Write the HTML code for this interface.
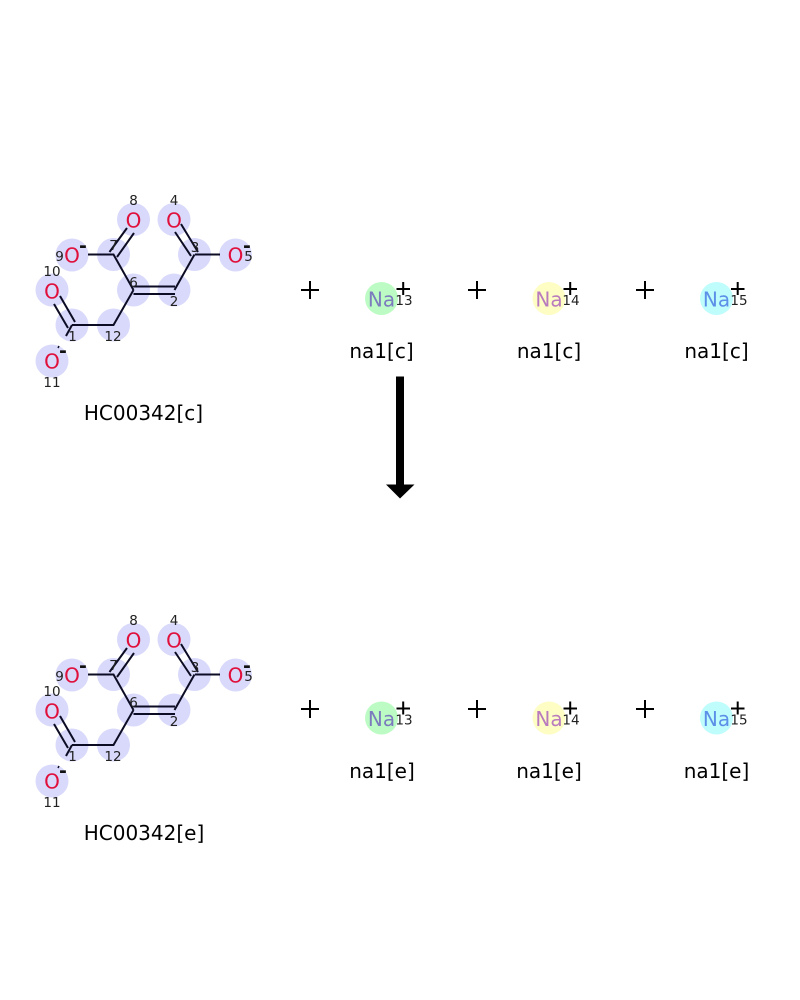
<!DOCTYPE html>
<html><head><meta charset="utf-8"><style>
html,body{margin:0;padding:0;background:#fff}
svg{display:block}
text{font-family:"DejaVu Sans",sans-serif}
.o{font-size:20px;fill:#e0103c;text-anchor:middle}
.n{font-size:13.5px;fill:#222;text-anchor:middle}
.m{font-size:19px;fill:#111;text-anchor:middle;font-weight:bold}
.l{font-size:20px;fill:#000;text-anchor:middle}
.na{font-size:20px;text-anchor:middle}
.h{fill:#d9d9fb}
.b{stroke:#0c0c24;stroke-width:2;fill:none}
.s{stroke:#000;stroke-width:2;fill:none}
</style></head><body>
<svg width="800" height="1000" viewBox="0 0 800 1000" xmlns="http://www.w3.org/2000/svg">
<rect width="800" height="1000" fill="#fff"/>

<!-- Upper molecule -->
<g>
<g class="h">
<circle cx="133.5" cy="219.5" r="16.5"/><circle cx="174" cy="219.5" r="16.5"/>
<circle cx="72" cy="255" r="16.5"/><circle cx="113.5" cy="254.5" r="16.5"/>
<circle cx="194.5" cy="254.5" r="16.5"/><circle cx="235.5" cy="255" r="16.5"/>
<circle cx="133.5" cy="290" r="16.5"/><circle cx="174" cy="290" r="16.5"/>
<circle cx="52" cy="290" r="16.5"/><circle cx="72" cy="325" r="16.5"/>
<circle cx="113.5" cy="325" r="16.5"/><circle cx="52" cy="361" r="16.5"/>
</g>
<g class="b">
<path d="M88 254.5H113.5L133.5 290"/>
<path d="M109.500 252L127 228M117 257L134 233"/>
<path d="M195 254.500H220"/>
<path d="M181 224L198 252M175 232L191 256"/>
<path d="M194.500 254.500L174.500 290"/>
<path d="M133.500 286.500H175M133.500 294H175"/>
<path d="M133.500 290L113.500 325H72"/>
<path d="M60 296L75 322M54 304L68 328"/>
<path d="M72 325L66 336"/>
<path d="M59 346L58 348" stroke-width="1.500"/>
</g>
<text class="o" x="133.500" y="227.500">O</text><text class="o" x="174" y="227.500">O</text>
<text class="o" x="72" y="262.500">O</text><text class="o" x="235.500" y="262.500">O</text>
<text class="o" x="52" y="298.500">O</text><text class="o" x="52" y="368.500">O</text>
<text class="n" x="133.500" y="205">8</text><text class="n" x="174" y="205">4</text>
<text class="n" x="59.500" y="261">9</text><text class="n" x="113.500" y="250">7</text>
<text class="n" x="195" y="252">3</text><text class="n" x="248.500" y="261">5</text>
<text class="n" x="133.500" y="287">6</text><text class="n" x="174" y="306">2</text>
<text class="n" x="52" y="276">10</text><text class="n" x="72.500" y="341">1</text>
<text class="n" x="113" y="341">12</text><text class="n" x="52" y="387">11</text>
<text class="m" x="83" y="252">-</text><text class="m" x="247" y="252">-</text><text class="m" x="63" y="357">-</text>
<text class="l" x="143.500" y="420">HC00342[c]</text>
</g>

<!-- Lower molecule -->
<g>
<g class="h">
<circle cx="133.5" cy="639.5" r="16.5"/><circle cx="174" cy="639.5" r="16.5"/>
<circle cx="72" cy="675" r="16.5"/><circle cx="113.5" cy="674.5" r="16.5"/>
<circle cx="194.5" cy="674.5" r="16.5"/><circle cx="235.5" cy="675" r="16.5"/>
<circle cx="133.5" cy="710" r="16.5"/><circle cx="174" cy="710" r="16.5"/>
<circle cx="52" cy="710" r="16.5"/><circle cx="72" cy="745" r="16.5"/>
<circle cx="113.5" cy="745" r="16.5"/><circle cx="52" cy="781" r="16.5"/>
</g>
<g class="b">
<path d="M88 674.5H113.5L133.5 710"/>
<path d="M109.500 672L127 648M117 677L134 653"/>
<path d="M195 674.500H220"/>
<path d="M181 644L198 672M175 652L191 676"/>
<path d="M194.500 674.500L174.500 710"/>
<path d="M133.500 706.500H175M133.500 714H175"/>
<path d="M133.500 710L113.500 745H72"/>
<path d="M60 716L75 742M54 724L68 748"/>
<path d="M72 745L66 756"/>
<path d="M59 766L58 768" stroke-width="1.500"/>
</g>
<text class="o" x="133.500" y="647.500">O</text><text class="o" x="174" y="647.500">O</text>
<text class="o" x="72" y="682.500">O</text><text class="o" x="235.500" y="682.500">O</text>
<text class="o" x="52" y="718.500">O</text><text class="o" x="52" y="788.500">O</text>
<text class="n" x="133.500" y="625">8</text><text class="n" x="174" y="625">4</text>
<text class="n" x="59.500" y="681">9</text><text class="n" x="113.500" y="670">7</text>
<text class="n" x="195" y="672">3</text><text class="n" x="248.500" y="681">5</text>
<text class="n" x="133.500" y="707">6</text><text class="n" x="174" y="726">2</text>
<text class="n" x="52" y="696">10</text><text class="n" x="72.500" y="761">1</text>
<text class="n" x="113" y="761">12</text><text class="n" x="52" y="807">11</text>
<text class="m" x="83" y="672">-</text><text class="m" x="247" y="672">-</text><text class="m" x="63" y="777">-</text>
<text class="l" x="144" y="840">HC00342[e]</text>
</g>

<!-- Na upper -->
<circle cx="381.500" cy="298.500" r="16.500" fill="#bcfcc4"/>
<circle cx="549" cy="298.500" r="16.500" fill="#fdfdc4"/>
<circle cx="716.500" cy="298.500" r="16.500" fill="#bffcfc"/>
<text class="na" x="381.500" y="306.500" fill="#7b7bbd">Na</text>
<text class="na" x="549" y="306.500" fill="#b97bbd">Na</text>
<text class="na" x="716.500" y="306.500" fill="#5b8fe8">Na</text>
<g class="s">
<path d="M396.500 289H410M403.200 282V295"/><path d="M563.500 289H577M570.200 282V295"/><path d="M731 289H744.500M737.700 282V295"/>
<path d="M301 290H319M310 281V299"/><path d="M468 290H486M477 281V299"/><path d="M636 290H654M645 281V299"/>
</g>
<text class="n" x="404" y="305">13</text><text class="n" x="571" y="305">14</text><text class="n" x="739" y="305">15</text>
<text class="l" x="381.500" y="358">na1[c]</text><text class="l" x="549" y="358">na1[c]</text><text class="l" x="716.500" y="358">na1[c]</text>

<!-- Arrow -->
<path d="M396 376.500H404V484.500H414.500L400 498.500L386 484.500H396Z" fill="#000"/>

<!-- Na lower -->
<circle cx="381.500" cy="718" r="16.500" fill="#bcfcc4"/>
<circle cx="549" cy="718" r="16.500" fill="#fdfdc4"/>
<circle cx="716.500" cy="718" r="16.500" fill="#bffcfc"/>
<text class="na" x="381.500" y="726" fill="#7b7bbd">Na</text>
<text class="na" x="549" y="726" fill="#b97bbd">Na</text>
<text class="na" x="716.500" y="726" fill="#5b8fe8">Na</text>
<g class="s">
<path d="M396.500 708.500H410M403.200 701.500V714.500"/><path d="M563.500 708.500H577M570.200 701.500V714.500"/><path d="M731 708.500H744.500M737.700 701.500V714.500"/>
<path d="M301 709H319M310 700V718"/><path d="M468 709H486M477 700V718"/><path d="M636 709H654M645 700V718"/>
</g>
<text class="n" x="404" y="724.500">13</text><text class="n" x="571" y="724.500">14</text><text class="n" x="739" y="724.500">15</text>
<text class="l" x="382" y="778">na1[e]</text><text class="l" x="549" y="778">na1[e]</text><text class="l" x="716.500" y="778">na1[e]</text>
</svg>
</body></html>
